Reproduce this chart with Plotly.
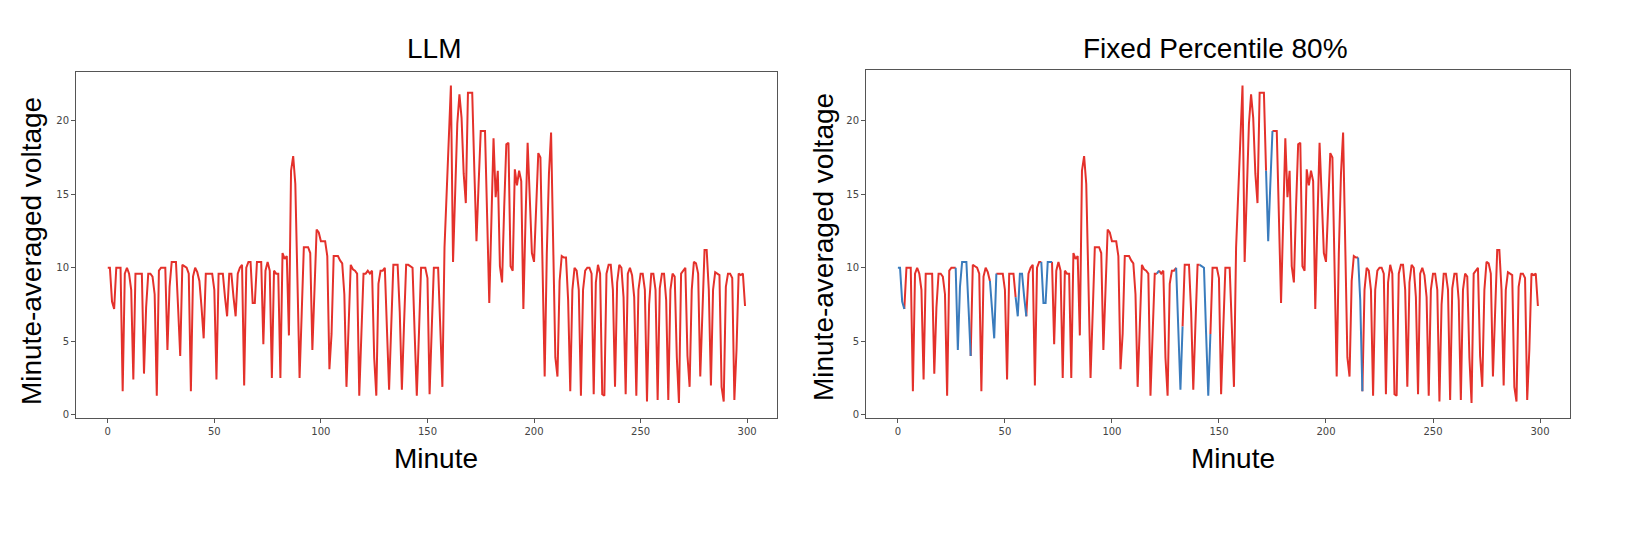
import plotly.graph_objects as go

# ---- data ----
minutes = list(range(300))
voltage = [
    10.0, 10.0, 7.7, 7.2, 10.0, 10.0, 10.0, 1.6, 9.6, 10.0,
    9.6, 8.5, 2.4, 9.6, 9.6, 9.6, 9.6, 2.8, 7.3, 9.6,
    9.6, 9.4, 8.2, 1.3, 9.8, 10.0, 10.0, 10.0, 4.4, 8.7,
    10.4, 10.4, 10.4, 7.3, 4.0, 10.2, 10.1, 10.0, 9.6, 1.6,
    9.4, 10.0, 9.7, 9.1, 7.3, 5.2, 9.6, 9.6, 9.6, 9.6,
    8.5, 2.4, 9.6, 9.6, 9.6, 8.0, 6.7, 9.6, 9.6, 8.0,
    6.7, 9.6, 10.0, 10.2, 2.0, 10.0, 10.4, 10.4, 7.6, 7.6,
    10.4, 10.4, 10.4, 4.8, 9.8, 10.4, 9.8, 2.5, 9.8, 9.6,
    9.6, 2.5, 11.0, 10.6, 10.8, 5.4, 16.6, 17.6, 15.7, 9.1,
    2.5, 6.9, 11.4, 11.4, 11.4, 11.0, 4.4, 8.5, 12.6, 12.4,
    11.8, 11.8, 11.8, 10.8, 3.1, 5.5, 10.8, 10.8, 10.8, 10.5,
    10.3, 8.2, 1.9, 6.0, 10.2, 9.9, 9.8, 9.6, 1.3, 5.5,
    9.6, 9.6, 9.8, 9.6, 9.8, 3.9, 1.3, 8.9, 9.8, 9.8,
    10.0, 5.8, 1.7, 6.0, 10.2, 10.2, 10.2, 7.0, 1.7, 6.1,
    10.2, 10.2, 10.1, 10.0, 5.5, 1.3, 5.5, 10.0, 10.0, 10.0,
    9.3, 1.4, 5.8, 10.0, 10.0, 10.0, 6.0, 1.9, 11.4, 15.5,
    18.9, 22.4, 10.4, 15.7, 19.8, 21.8, 20.2, 16.4, 14.4, 21.9,
    21.9, 21.9, 16.6, 11.8, 15.7, 19.3, 19.3, 19.3, 13.5, 7.6,
    13.2, 18.8, 14.8, 16.6, 10.1, 9.0, 14.1, 18.4, 18.5, 10.1,
    9.8, 16.7, 15.6, 16.6, 15.9, 7.2, 13.2, 18.5, 14.8, 11.0,
    10.4, 13.7, 17.8, 17.5, 10.0, 2.6, 11.0, 16.4, 19.2, 11.9,
    3.9, 2.6, 9.1, 10.8, 10.7, 10.7, 7.8, 1.6, 8.5, 10.0,
    9.8, 8.5, 1.3, 8.5, 9.8, 10.0, 10.0, 9.6, 1.4, 9.0,
    10.2, 9.6, 1.4, 1.3, 9.6, 10.2, 10.2, 8.5, 1.9, 9.0,
    10.2, 10.0, 8.0, 1.4, 9.6, 10.0, 9.5, 8.0, 1.3, 8.5,
    9.6, 9.6, 8.5, 0.9, 7.5, 9.6, 9.6, 8.5, 1.0, 8.6,
    9.6, 9.6, 7.8, 1.0, 8.5, 9.6, 9.4, 3.9, 0.8, 9.6,
    9.8, 10.0, 4.0, 1.9, 8.5, 10.4, 10.3, 9.6, 2.6, 7.5,
    11.2, 11.2, 8.5, 2.0, 8.5, 9.7, 9.6, 9.5, 1.9, 0.9,
    8.7, 9.6, 9.6, 9.3, 1.0, 4.4, 9.6, 9.5, 9.6, 7.4,
]
# minute ranges drawn in blue (normal) on the "Fixed Percentile 80%" panel
blue_ranges = [(0, 3), (27, 34), (43, 46), (55, 60), (67, 72),
               (121, 122), (130, 133), (141, 146), (172, 175), (215, 217)]

titles = ["LLM", "Fixed Percentile 80%"]
x_label = "Minute"
y_label = "Minute-averaged voltage"
x_ticks = [0, 50, 100, 150, 200, 250, 300]
y_ticks = [0, 5, 10, 15, 20]

RED = "#e4312b"
BLUE = "#3a7cbd"
W, H = 1628, 540

# ---- segment colouring for the right panel ----
def seg_blue(i):
    return any(a <= i and i + 1 <= b for a, b in blue_ranges)

runs = []  # (is_blue, start_idx, end_idx)
for i in range(len(minutes) - 1):
    b = seg_blue(i)
    if runs and runs[-1][0] == b:
        runs[-1][2] = i + 1
    else:
        runs.append([b, i, i + 1])

def build(is_blue):
    xs, ys = [], []
    for b, s, e in runs:
        if b == is_blue:
            xs += minutes[s:e + 1] + [None]
            ys += voltage[s:e + 1] + [None]
    return xs, ys

fig = go.Figure()
fig.add_trace(go.Scatter(x=minutes, y=voltage, mode="lines",
                         line=dict(color=RED, width=2), xaxis="x", yaxis="y",
                         showlegend=False, hoverinfo="skip"))
rx, ry = build(False)
bx, by = build(True)
fig.add_trace(go.Scatter(x=rx, y=ry, mode="lines", connectgaps=False,
                         line=dict(color=RED, width=2), xaxis="x2", yaxis="y2",
                         showlegend=False, hoverinfo="skip"))
fig.add_trace(go.Scatter(x=bx, y=by, mode="lines", connectgaps=False,
                         line=dict(color=BLUE, width=2), xaxis="x2", yaxis="y2",
                         showlegend=False, hoverinfo="skip"))

common_x = dict(range=[-14.9, 314.0], tickvals=x_ticks, ticks="outside", ticklen=4,
                tickcolor="#555", showline=True, linecolor="#555", linewidth=1,
                mirror=True, showgrid=False, zeroline=False,
                tickfont=dict(family="DejaVu Sans", size=10, color="#444"))
common_y = dict(tickvals=y_ticks, ticks="outside", ticklen=4,
                tickcolor="#555", showline=True, linecolor="#555", linewidth=1,
                mirror=True, showgrid=False, zeroline=False,
                tickfont=dict(family="DejaVu Sans", size=10, color="#444"))

fig.update_layout(
    width=W, height=H, margin=dict(l=0, r=0, t=0, b=0),
    paper_bgcolor="white", plot_bgcolor="white",
    xaxis=dict(domain=[76 / W, 777 / W], anchor="y", **common_x),
    yaxis=dict(anchor="x", domain=[(H - 420) / H, (H - 72.5) / H],
               range=[-0.25, 23.3], **common_y),
    xaxis2=dict(domain=[866 / W, 1570 / W], anchor="y2", **common_x),
    yaxis2=dict(anchor="x2", domain=[(H - 420) / H, (H - 70) / H],
                range=[-0.25, 23.47], **common_y),
)

font_big = dict(family="Liberation Sans, Arial", size=28, color="black")
ann = [
    dict(text=titles[0], x=434 / W, y=1 - 49 / H),
    dict(text=titles[1], x=1215 / W, y=1 - 49 / H),
    dict(text=x_label, x=436 / W, y=1 - 460 / H),
    dict(text=x_label, x=1233 / W, y=1 - 460 / H),
    dict(text=y_label, x=31 / W, y=1 - 252 / H, textangle=-90),
    dict(text=y_label, x=823 / W, y=1 - 248 / H, textangle=-90),
]
for a in ann:
    fig.add_annotation(xref="paper", yref="paper", showarrow=False,
                       xanchor="center", yanchor="middle", font=font_big, **a)

fig.write_html("out.html")
